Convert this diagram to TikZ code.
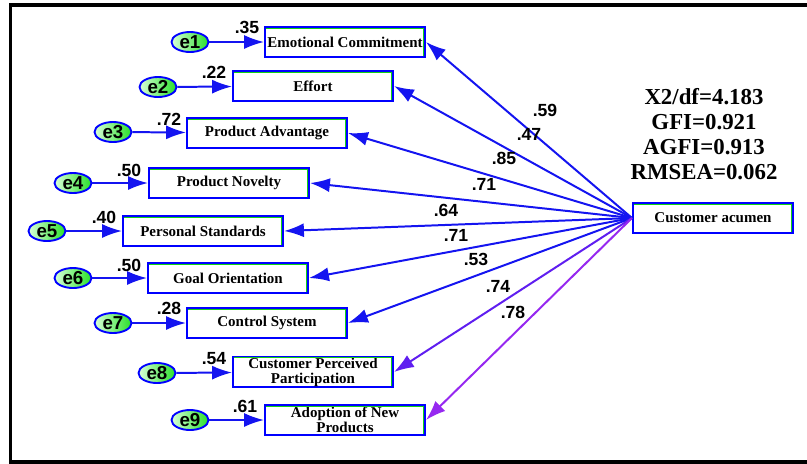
\documentclass[tikz,border=0pt]{standalone}
\usepackage{fontspec}
\setmainfont{Liberation Serif}
\setsansfont{Liberation Sans}
\usetikzlibrary{arrows.meta,shapes.geometric}
\definecolor{errgreen}{RGB}{40,225,40}
\definecolor{boxgreen}{RGB}{20,210,20}
\definecolor{pathblue}{RGB}{20,20,240}
\definecolor{pathviolet}{RGB}{95,30,240}
\definecolor{pathpurple}{RGB}{150,40,240}

\begin{document}
\begin{tikzpicture}[x=0.03cm,y=-0.03cm,
  obs/.style={draw=blue,line width=1.7pt,fill=white,minimum width=4.8cm,minimum height=0.9cm,inner sep=1pt,align=center,font=\bfseries\fontsize{12.8}{12.8}\selectfont},
  err/.style={ellipse,draw=blue,line width=1.6pt,left color=green!15,right color=errgreen,minimum width=1.11cm,minimum height=0.6cm,inner sep=0pt,font=\sffamily\bfseries\fontsize{16}{16}\selectfont},
  num/.style={font=\sffamily\bfseries\fontsize{15}{15}\selectfont,inner sep=0pt},
  arr/.style={draw=pathblue,line width=1.7pt,-{Latex[length=17pt,width=12pt]}},
  fitstats/.style={align=center,font=\bfseries\fontsize{19.5}{21.3}\selectfont}]
\useasboundingbox (0,0) rectangle (807,463);
\clip (0,0) rectangle (807,463);
\draw[line width=3.4pt] (10.5,5) rectangle (840,462);

% observed variables
\foreach \i/\x/\y/\txt in {1/345/42/{Emotional Commitment},2/313/86/{Effort},3/267/133/{Product Advantage},
  4/229/183/{Product Novelty},5/203/231/{Personal Standards},6/228/278/{Goal Orientation},
  7/267/323/{Control System},8/313/372/{Customer Perceived\\Participation},9/345/420/{Adoption of New\\Products}} {
  \node[obs] (b\i) at (\x,\y) {\txt};
  \draw[boxgreen,line width=1.1pt] ([shift={(1.8pt,-1.9pt)}]b\i.north west) -- ([shift={(-1.9pt,-1.9pt)}]b\i.north east) -- ([shift={(-1.9pt,1.8pt)}]b\i.south east);
}
\node[obs] (ca) at (713,218) {Customer acumen};
\draw[boxgreen,line width=1.1pt] ([shift={(1.8pt,-1.9pt)}]ca.north west) -- ([shift={(-1.9pt,-1.9pt)}]ca.north east) -- ([shift={(-1.9pt,1.8pt)}]ca.south east);

% errors
\foreach \i/\x/\y in {1/190/42,2/158/87,3/113/132,4/73/183,5/47/231,6/73/278,7/113/323,8/157/373,9/190/420} {
  \node[err] (e\i) at (\x,\y) {e\i};
  \draw[arr] (e\i) -- (b\i);
}

% squared multiple correlations
\foreach \i/\x/\y/\v in {1/247/27/.35,2/214/72/.22,3/169/119/.72,4/129/170/.50,5/104/217/.40,
  6/129/265/.50,7/169/308/.28,8/214/359/.54,9/245/406/.61} {
  \node[num] (r\i) at (\x,\y) {\v};
}

% loadings
\foreach \i in {1,2,...,7} {
  \draw[arr] (ca.west) -- (b\i.east);
}
\draw[arr,draw=pathviolet] (ca.west) -- (b8.east);
\draw[arr,draw=pathpurple] (ca.west) -- (b9.east);
\foreach \i/\x/\y/\v in {1/545/110/.59,2/529/134/.47,3/504/158/.85,4/484/184/.71,5/446/210/.64,
  6/456/235/.71,7/476/259/.53,8/498/286/.74,9/513/312/.78} {
  \node[num] (w\i) at (\x,\y) {\v};
}

\node[fitstats] (gof) at (704,134) {X2/df=4.183\\GFI=0.921\\AGFI=0.913\\RMSEA=0.062};
\end{tikzpicture}
\end{document}
